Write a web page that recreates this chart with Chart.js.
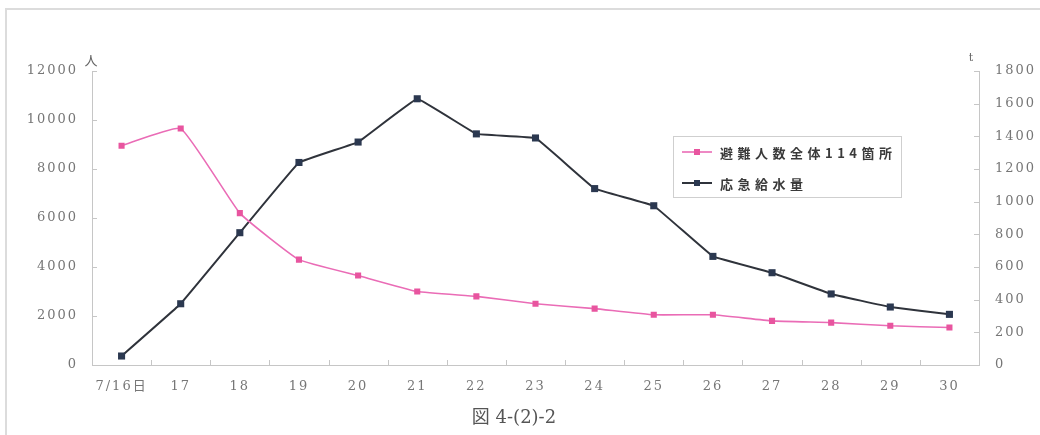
<!DOCTYPE html>
<html lang="ja">
<head>
<meta charset="utf-8">
<title>避難人数と応急給水量の推移</title>
<script src="https://cdn.jsdelivr.net/npm/chart.js@4.4.1/dist/chart.umd.min.js"></script>
<style>
  html, body { margin: 0; padding: 0; background: #ffffff; }
  #wrap { position: relative; width: 1040px; height: 435px; }
  canvas { display: block; }
</style>
</head>
<body>
<div id="wrap"><canvas id="chart" width="1040" height="435"></canvas></div>
<script>
// Days (July 16 – 30)
const days = ['7/16日', '17', '18', '19', '20', '21', '22', '23', '24', '25', '26', '27', '28', '29', '30'];

// Evacuees across all 114 shelters (persons, left axis)
const evacuees = [8950, 9650, 6200, 4300, 3650, 3000, 2800, 2500, 2300, 2050, 2050, 1800, 1730, 1600, 1530];

// Emergency water supply (tonnes, right axis)
const waterSupply = [55, 375, 810, 1240, 1365, 1630, 1415, 1390, 1080, 975, 665, 565, 435, 355, 310];

const seriesNames = ['避難人数全体114箇所', '応急給水量'];
const caption = '図 4-(2)-2';
const leftUnit = '人';
const rightUnit = 't';

const PINK = '#ea6cb6';
const PINK_MARK = '#e8559f';
const DARK = '#2f333b';
const DARK_MARK = '#2b3850';
const AXIS = '#c6c6c6';
const TICK_TEXT = '#767676';

const plainNumber = v => String(v);

// Inward tick marks, unit labels, boxed legend, caption and page frame
const decor = {
  id: 'decor',
  beforeDraw(chart) {
    const ctx = chart.ctx;
    ctx.save();
    ctx.strokeStyle = '#dcdcdc';
    ctx.lineWidth = 2;
    ctx.beginPath();
    ctx.moveTo(6, chart.height);
    ctx.lineTo(6, 9);
    ctx.lineTo(chart.width, 9);
    ctx.stroke();
    ctx.restore();
    ctx.letterSpacing = '2px';
  },
  afterDraw(chart) {
    const { ctx, chartArea, scales } = chart;
    const x = scales.x, y = scales.y, y1 = scales.y1;
    ctx.save();
    ctx.letterSpacing = '0px';
    ctx.strokeStyle = AXIS;
    ctx.lineWidth = 1;
    // category boundary ticks pointing into the plot
    for (let i = 1; i < chart.data.labels.length; i++) {
      const px = Math.round(x.getPixelForValue(i - 0.5)) + 0.5;
      ctx.beginPath();
      ctx.moveTo(px, chartArea.bottom);
      ctx.lineTo(px, chartArea.bottom - 5);
      ctx.stroke();
    }
    y.ticks.forEach(t => {
      const py = Math.round(y.getPixelForValue(t.value)) + 0.5;
      ctx.beginPath();
      ctx.moveTo(y.right, py);
      ctx.lineTo(y.right + 5, py);
      ctx.stroke();
    });
    y1.ticks.forEach(t => {
      const py = Math.round(y1.getPixelForValue(t.value)) + 0.5;
      ctx.beginPath();
      ctx.moveTo(y1.left, py);
      ctx.lineTo(y1.left - 5, py);
      ctx.stroke();
    });

    // unit labels above each axis
    ctx.fillStyle = '#666';
    ctx.textAlign = 'center';
    ctx.textBaseline = 'middle';
    ctx.font = '13px "Noto Sans CJK JP", sans-serif';
    ctx.fillText(leftUnit, y.right - 1, chartArea.top - 11);
    ctx.font = '11px "DejaVu Serif", serif';
    ctx.fillText(rightUnit, y1.left - 8, chartArea.top - 13);

    // legend box
    const lx = 673, ly = 136, lw = 228, lh = 61;
    ctx.fillStyle = '#ffffff';
    ctx.fillRect(lx, ly, lw, lh);
    ctx.strokeStyle = '#cfcfcf';
    ctx.strokeRect(lx + 0.5, ly + 0.5, lw, lh);
    const rows = [ly + 16, ly + 47];
    chart.data.datasets.forEach((ds, i) => {
      const ry = rows[i];
      ctx.strokeStyle = ds.borderColor;
      ctx.lineWidth = ds.borderWidth;
      ctx.beginPath();
      ctx.moveTo(lx + 9, ry);
      ctx.lineTo(lx + 39, ry);
      ctx.stroke();
      ctx.fillStyle = ds.pointBackgroundColor;
      ctx.fillRect(lx + 21, ry - 3, 6, 6);
      ctx.fillStyle = '#3a3a3a';
      ctx.textAlign = 'left';
      ctx.font = 'bold 13px "Noto Sans CJK JP", sans-serif';
      ctx.letterSpacing = '4.5px';
      ctx.fillText(ds.label, lx + 47, ry + 1);
      ctx.letterSpacing = '0px';
    });

    // figure caption
    ctx.fillStyle = '#555';
    ctx.textAlign = 'center';
    ctx.font = '18px "DejaVu Serif", "Noto Sans CJK JP", serif';
    ctx.fillText(caption, 514, 418);
    ctx.restore();
  }
};

new Chart(document.getElementById('chart'), {
  type: 'line',
  data: {
    labels: days,
    datasets: [
      {
        label: seriesNames[0],
        data: evacuees,
        yAxisID: 'y',
        borderColor: PINK,
        borderWidth: 1.6,
        pointStyle: 'rect',
        pointRadius: 4.3,
        pointBackgroundColor: PINK_MARK,
        pointBorderColor: PINK_MARK,
        pointBorderWidth: 0,
        tension: 0.12
      },
      {
        label: seriesNames[1],
        data: waterSupply,
        yAxisID: 'y1',
        borderColor: DARK,
        borderWidth: 2,
        pointStyle: 'rect',
        pointRadius: 5,
        pointBackgroundColor: DARK_MARK,
        pointBorderColor: DARK_MARK,
        pointBorderWidth: 0,
        tension: 0.05
      }
    ]
  },
  options: {
    responsive: false,
    animation: false,
    devicePixelRatio: 1,
    layout: { padding: { top: 71, left: 0, right: 0, bottom: 27.6 } },
    plugins: {
      legend: { display: false },
      title: { display: false },
      tooltip: { enabled: false }
    },
    scales: {
      x: {
        type: 'category',
        offset: true,
        grid: { display: false, drawTicks: false },
        border: { color: AXIS, width: 1 },
        ticks: {
          color: TICK_TEXT,
          padding: 14,
          maxRotation: 0,
          autoSkip: false,
          font: { family: '"DejaVu Serif", "Noto Sans CJK JP", serif', size: 13 }
        },
        afterFit(s) { s.height = 42.4; }
      },
      y: {
        position: 'left',
        min: 0,
        max: 12000,
        grid: { display: false, drawTicks: false },
        border: { color: AXIS, width: 1 },
        ticks: {
          stepSize: 2000,
          color: TICK_TEXT,
          padding: 14,
          callback: plainNumber,
          font: { family: '"DejaVu Serif", serif', size: 13 }
        },
        afterFit(s) { s.width = 92; }
      },
      y1: {
        position: 'right',
        min: 0,
        max: 1800,
        grid: { display: false, drawTicks: false },
        border: { color: AXIS, width: 1 },
        ticks: {
          stepSize: 200,
          color: TICK_TEXT,
          padding: 16,
          callback: plainNumber,
          font: { family: '"DejaVu Serif", serif', size: 13 }
        },
        afterFit(s) { s.width = 61; }
      }
    }
  },
  plugins: [decor]
});
</script>
</body>
</html>
